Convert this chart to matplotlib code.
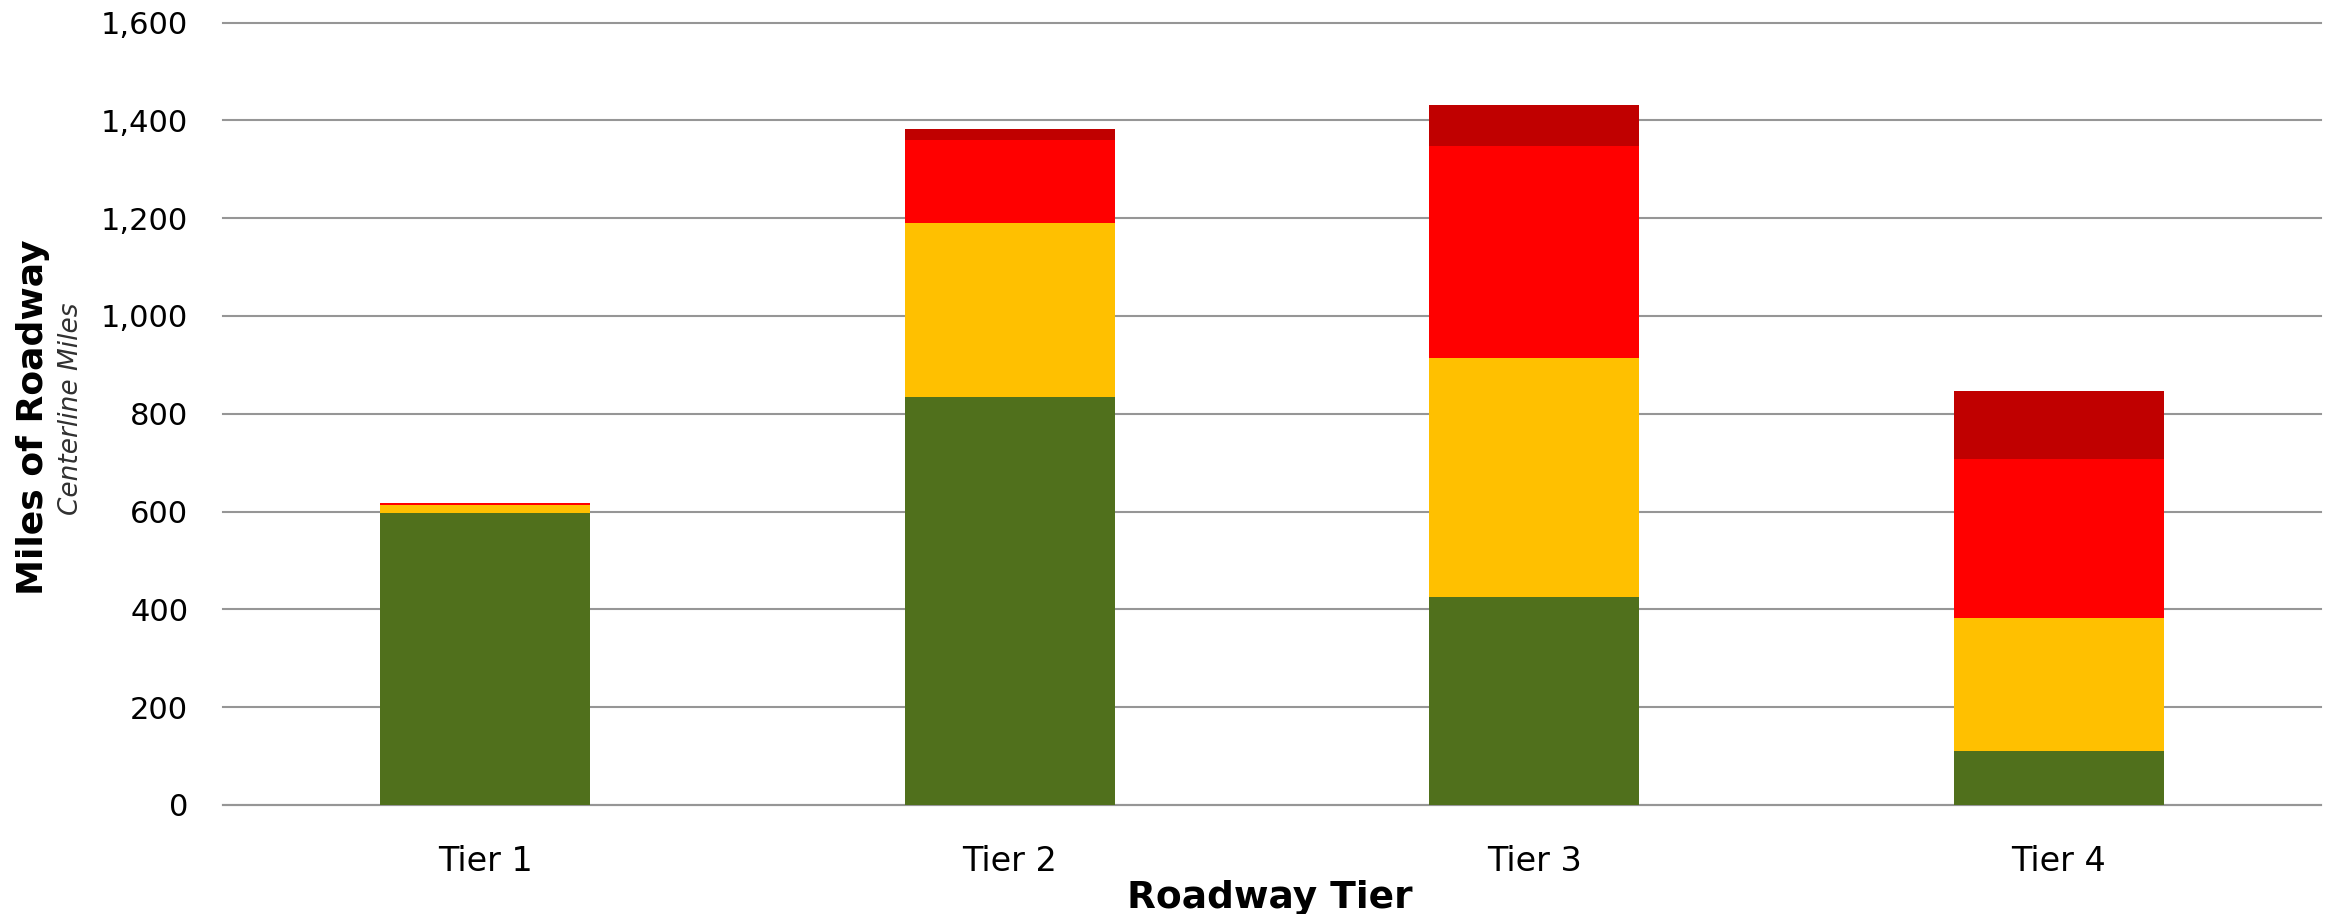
import matplotlib
matplotlib.use("Agg")
import matplotlib.pyplot as plt
import numpy as np

tiers = ["Tier 1", "Tier 2", "Tier 3", "Tier 4"]
good = [598, 835, 425, 110]
fair = [16, 355, 489, 273]
poor = [3.5, 169, 434, 324]
very_poor = [0.5, 23, 84, 139]
yticks = [0, 200, 400, 600, 800, 1000, 1200, 1400, 1600]

series = [good, fair, poor, very_poor]
colors = ["#50701C", "#FFC000", "#FF0000", "#C00000"]

fig = plt.figure(figsize=(23.36, 9.14), dpi=100)
ax = fig.add_axes([223/2336, 1 - 805/914, (2321-223)/2336, (805-22.5)/914])

x = np.arange(len(tiers))
bottom = np.zeros(len(tiers))
for vals, c in zip(series, colors):
    ax.bar(x, vals, width=0.4, bottom=bottom, color=c, zorder=3)
    bottom += np.array(vals)

ax.set_xlim(-0.5, 3.5)
ax.set_ylim(0, 1600)
ax.set_yticks(yticks)
ax.set_yticklabels([f"{v:,}" for v in yticks])
ax.set_xticks(x)
ax.set_xticklabels(tiers)
ax.yaxis.grid(True, color="#969696", linewidth=1.5, zorder=0)
for gl in ax.get_ygridlines():
    gl.set_clip_on(False)
ax.set_axisbelow(True)
for s in ["top", "right", "left"]:
    ax.spines[s].set_visible(False)
ax.spines["bottom"].set_color("#969696")
ax.spines["bottom"].set_linewidth(1.5)
ax.tick_params(axis="y", length=0, pad=25, labelsize=22)
ax.tick_params(axis="x", length=0, pad=29, labelsize=24)

fig.text(1270/2336, 1 - 898/914, "Roadway Tier", ha="center", va="center",
         fontsize=27, fontweight="bold")
fig.text(33/2336, 1 - 417/914, "Miles of Roadway", ha="center", va="center",
         rotation=90, fontsize=26, fontweight="bold")
fig.text(71/2336, 1 - 409/914, "Centerline Miles", ha="center", va="center",
         rotation=90, fontsize=19, style="italic", color="#303030")

fig.savefig("out.png", dpi=100)
